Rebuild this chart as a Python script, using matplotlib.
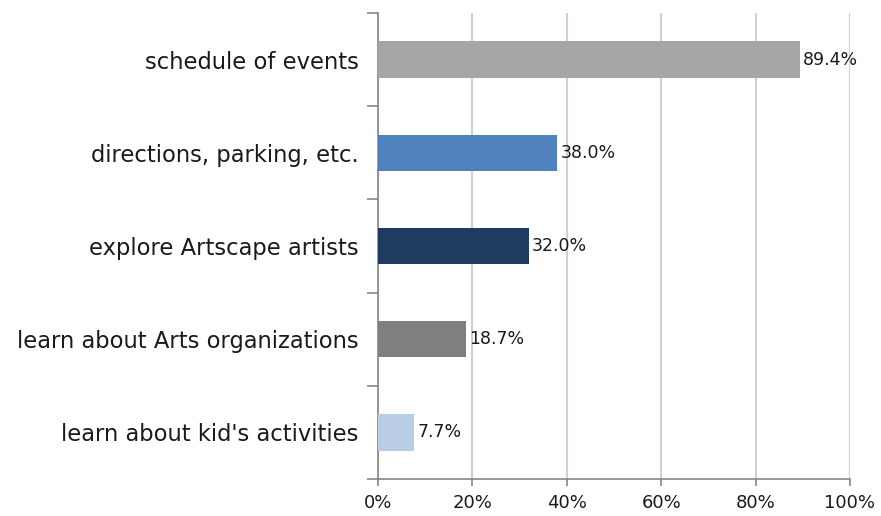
import matplotlib.pyplot as plt
import matplotlib.ticker as mticker

categories = ["schedule of events", "directions, parking, etc.", "explore Artscape artists",
              "learn about Arts organizations", "learn about kid's activities"]
values = [89.4, 38.0, 32.0, 18.7, 7.7]
colors = ["#a6a6a6", "#4f81bd", "#1f3b5f", "#7f7f7f", "#b9cde5"]
xticks = [0, 20, 40, 60, 80, 100]

plt.rcParams['font.family'] = ['DejaVu Sans']

fig = plt.figure(figsize=(8.81, 5.16), dpi=100)
ax = fig.add_axes([378 / 881, 1 - 479 / 516, (850 - 378) / 881, (479 - 13) / 516])

pos = list(range(len(categories)))[::-1]
ax.barh(pos, values, height=0.39, color=colors, zorder=3)
for p, v in zip(pos, values):
    ax.text(v + 0.6, p, f"{v:.1f}%", va='center', ha='left', fontsize=12.5, color='#1a1a1a', zorder=4)

ax.set_xlim(0, 100)
ax.set_ylim(-0.5, len(categories) - 0.5)
ax.set_xticks(xticks)
ax.xaxis.set_major_formatter(mticker.FuncFormatter(lambda x, _: f"{x:.0f}%"))
ax.set_yticks(pos)
ax.set_yticklabels(categories, fontsize=16.3, color='#1a1a1a')
ax.set_yticks([i - 0.5 for i in range(len(categories) + 1)], minor=True)
ax.tick_params(axis='y', which='major', length=0, pad=14)
ax.tick_params(axis='y', which='minor', length=8, width=1.2, color='#868686')
ax.tick_params(axis='x', length=5, width=1.2, color='#868686', labelsize=13, labelcolor='#1a1a1a', pad=6)
ax.grid(axis='x', color='#d0d0d0', linewidth=1.5, zorder=0)

for s in ['top', 'right']:
    ax.spines[s].set_visible(False)
for s in ['left', 'bottom']:
    ax.spines[s].set_color('#868686')
    ax.spines[s].set_linewidth(1.2)

fig.savefig("out.png", dpi=100, facecolor='white')
